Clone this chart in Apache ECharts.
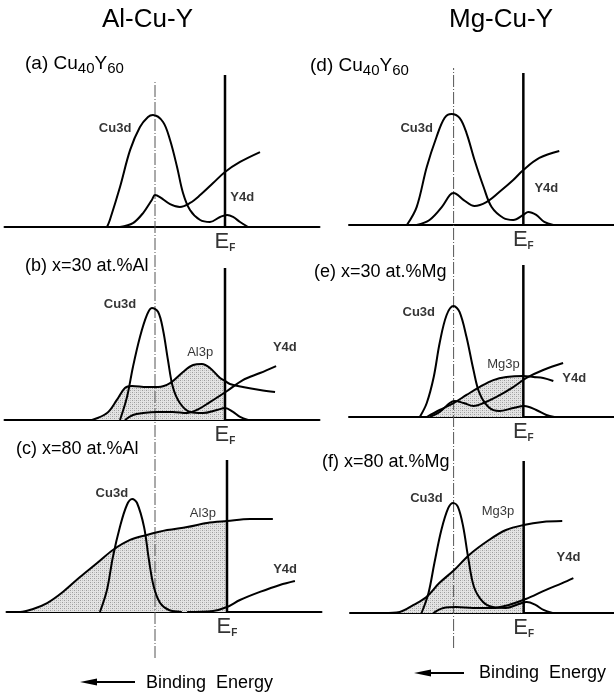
<!DOCTYPE html>
<html>
<head>
<meta charset="utf-8">
<script src="https://cdn.jsdelivr.net/npm/echarts@6/dist/echarts.min.js"></script>
<style>
  html, body { margin: 0; padding: 0; background: #fff; }
  #chart { width: 614px; height: 694px; }
</style>
</head>
<body>
<div id="chart"></div>
<script>
// x = binding energy (arb. units, E_F = 0, increasing to the left), y = intensity (arb. units)

// (a) Al-Cu-Y, Cu40Y60
const aCu3d = [[3.37,0],[3.29,0.46],[3.0,2.63],[2.71,5.07],[2.43,6.58],[2.2,7.24],[2.06,7.37],[1.77,6.91],[1.57,5.72],[1.37,3.95],[1.2,2.24],[1.0,1.12],[0.71,0.46],[0.43,0.33],[0.14,0.66],[-0.06,0.79],[-0.23,0.66],[-0.43,0.33],[-0.66,0]];
const aY4d = [[3.0,0],[2.63,0.26],[2.34,0.92],[2.09,1.78],[2.0,2.1],[1.86,1.97],[1.57,1.51],[1.29,1.32],[1.0,1.58],[0.71,2.1],[0.34,2.89],[0,3.62],[-0.43,4.28],[-1.0,4.93]];
const aLabels = [[3.14,6.5,'Cu3d'],[-0.49,1.97,'Y4d']];

// (b) x=30 at.%Al
const bCu3d = [[3.0,0],[2.8,1.51],[2.63,3.49],[2.43,5.46],[2.23,6.91],[2.09,7.37],[1.91,7.11],[1.77,5.92],[1.63,3.95],[1.49,2.17],[1.29,1.12],[1.0,0.53],[0.63,0.46],[0.23,0.66],[0,0.79],[-0.23,0.53],[-0.43,0.2],[-0.66,0]];
const bAl3p = [[3.8,0],[3.37,0.46],[3.09,1.32],[2.86,2.11],[2.66,2.24],[2.23,2.17],[1.91,2.17],[1.57,2.43],[1.2,3.16],[0.91,3.62],[0.66,3.68],[0.43,3.42],[0.14,2.76],[0,2.57],[-0.14,2.37],[-0.51,2.17],[-1.0,1.97],[-1.43,1.84]];
const bY4d = [[2.86,0],[2.63,0.33],[2.34,0.46],[1.94,0.53],[1.49,0.53],[1.09,0.46],[0.8,0.66],[0.43,1.18],[-0.06,1.91],[-0.51,2.63],[-1.0,3.09],[-1.46,3.55]];
const bLabels = [[3.0,7.63,'Cu3d'],[0.71,4.47,'Al3p'],[-1.71,4.8,'Y4d']];

// (c) x=80 at.%Al
const cAl3p = [[6.28,0],[5.91,0],[5.54,0.2],[5.14,0.59],[4.69,1.32],[4.2,2.3],[3.71,3.22],[3.26,4.08],[2.77,4.74],[2.29,5.07],[1.71,5.39],[1.14,5.59],[0.57,5.86],[0,5.99],[-0.66,6.12],[-1.31,6.12]];
const cCu3d = [[3.63,0],[3.43,1.45],[3.26,3.62],[3.06,5.59],[2.86,7.04],[2.71,7.43],[2.57,7.17],[2.37,5.59],[2.23,3.42],[2.09,1.64],[1.91,0.59],[1.66,0.13],[1.29,0]];
const cY4d = [[1.14,0],[0.4,0.07],[0,0.33],[-0.37,0.79],[-0.94,1.32],[-1.51,1.78],[-1.94,2.04]];
const cLabels = [[3.29,7.83,'Cu3d'],[0.69,6.51,'Al3p'],[-1.66,2.83,'Y4d']];

// (d) Mg-Cu-Y, Cu40Y60
const dCu3d = [[3.34,0],[3.06,1.18],[2.77,3.82],[2.49,5.79],[2.26,7.04],[2.06,7.3],[1.83,7.04],[1.63,6.05],[1.4,4.28],[1.14,2.5],[0.91,1.18],[0.57,0.46],[0.29,0.33],[0,0.66],[-0.14,0.86],[-0.37,0.66],[-0.6,0.2],[-0.86,0]];
const dY4d = [[3.06,0],[2.69,0.33],[2.34,1.18],[2.11,1.97],[2.0,2.11],[1.71,1.64],[1.4,1.25],[1.06,1.51],[0.69,2.17],[0.29,2.96],[0,3.62],[-0.46,4.41],[-1.03,4.87]];
const dLabels = [[3.06,6.38,'Cu3d'],[-0.66,2.43,'Y4d']];

// (e) x=30 at.%Mg
const eCu3d = [[2.97,0],[2.77,0.92],[2.57,2.63],[2.4,4.87],[2.2,6.71],[2.0,7.3],[1.83,6.91],[1.63,5.26],[1.43,3.09],[1.26,1.58],[1.0,0.66],[0.69,0.39],[0.29,0.59],[-0.03,0.72],[-0.37,0.46],[-0.66,0.13],[-0.89,0]];
const eMg3p = [[2.77,0],[2.4,0.46],[2.0,0.92],[1.63,1.45],[1.26,1.97],[0.86,2.43],[0.49,2.63],[0,2.7],[-0.29,2.63],[-0.57,2.57],[-0.86,2.37]];
const eY4d = [[2.69,0],[2.4,0.33],[2.11,0.92],[1.97,1.05],[1.71,0.92],[1.43,0.72],[1.14,0.92],[0.77,1.32],[0.29,1.97],[-0.09,2.57],[-0.57,3.09],[-1.14,3.55]];
const eLabels = [[3.0,6.9,'Cu3d'],[0.57,3.49,'Mg3p'],[-1.46,2.57,'Y4d']];

// (f) x=80 at.%Mg
const fMg3p = [[4.03,0],[3.57,0.07],[3.17,0.53],[2.8,1.05],[2.43,1.97],[2.0,2.83],[1.57,3.82],[1.0,4.8],[0.51,5.46],[0,5.79],[-0.54,5.99],[-1.11,6.05]];
const fCu3d = [[2.94,0],[2.74,1.32],[2.57,3.29],[2.37,5.46],[2.17,6.91],[2.03,7.24],[1.89,6.97],[1.74,5.66],[1.6,3.68],[1.43,1.71],[1.17,0.72],[0.89,0.39],[0.51,0.33],[0.14,0.59],[-0.09,0.72],[-0.34,0.53],[-0.57,0.2],[-0.83,0]];
const fY4d = [[2.6,0],[2.31,0.33],[1.94,0.39],[1.46,0.33],[0.89,0.33],[0.43,0.53],[-0.06,0.92],[-0.63,1.51],[-1.11,1.97],[-1.43,2.3]];
const fLabels = [[2.8,7.57,'Cu3d'],[0.74,6.71,'Mg3p'],[-1.29,3.68,'Y4d']];

const eFermi = 0;      // E_F
const dashEnergy = 2;  // dashed reference line
const yTop = 10;

const FONT = "'Liberation Sans', Arial, Helvetica, sans-serif";

// panel layout
const panels = [
    {left: 4.5, top: 75,  min: -2.7, max: 6.3, curves: [aCu3d, aY4d], shade: null,  labels: aLabels},
    {left: 4.5, top: 268, min: -2.7, max: 6.3, curves: [bCu3d, bAl3p, bY4d], shade: bAl3p, labels: bLabels},
    {left: 6.5, top: 460, min: -2.7, max: 6.3, curves: [cAl3p, cCu3d, cY4d], shade: cAl3p, labels: cLabels},
    {left: 349, top: 73,  min: -2.6, max: 5.0, curves: [dCu3d, dY4d], shade: null,  labels: dLabels},
    {left: 349, top: 265, min: -2.6, max: 5.0, curves: [eCu3d, eMg3p, eY4d], shade: eMg3p, labels: eLabels},
    {left: 350, top: 461, min: -2.6, max: 5.0, curves: [fMg3p, fCu3d, fY4d], shade: fMg3p, labels: fLabels}
];
const PX = 35, PANEL_H = 152;

function makeDots() {
    const c = document.createElement('canvas');
    c.width = 4; c.height = 4;
    const g = c.getContext('2d');
    g.fillStyle = '#e4e4e4'; g.fillRect(0, 0, 4, 4);
    g.fillStyle = '#9c9c9c'; g.fillRect(0, 0, 1, 1); g.fillRect(2, 2, 1, 1);
    g.fillStyle = '#c2c2c2'; g.fillRect(2, 0, 1, 1); g.fillRect(0, 2, 1, 1);
    return c;
}
const dots = {image: makeDots(), repeat: 'repeat'};

const grids = [], xAxes = [], yAxes = [], series = [];

panels.forEach((p, i) => {
    grids.push({left: p.left, top: p.top, width: (p.max - p.min) * PX, height: PANEL_H});
    xAxes.push({
        gridIndex: i, type: 'value', inverse: true, min: p.min, max: p.max,
        axisLine: {show: true, onZero: false, lineStyle: {color: '#000', width: 2}},
        axisTick: {show: false}, axisLabel: {show: false}, splitLine: {show: false}
    });
    yAxes.push({gridIndex: i, type: 'value', min: 0, max: yTop, show: false, splitLine: {show: false}});

    if (p.shade) {
        series.push({
            type: 'line', xAxisIndex: i, yAxisIndex: i, z: 1,
            data: p.shade.filter(d => d[0] >= eFermi),
            smooth: 0.35, symbol: 'none', silent: true,
            lineStyle: {width: 0},
            areaStyle: {color: dots, opacity: 1}
        });
    }
    p.curves.forEach(c => {
        series.push({
            type: 'line', xAxisIndex: i, yAxisIndex: i, z: 3,
            data: c, smooth: 0.35, symbol: 'none', silent: true,
            lineStyle: {color: '#000', width: 2}
        });
    });
    // E_F line
    series.push({
        type: 'line', xAxisIndex: i, yAxisIndex: i, z: 4,
        data: [[eFermi, 0], [eFermi, yTop]], symbol: 'none', silent: true,
        lineStyle: {color: '#000', width: 2.5}
    });
    // curve names
    series.push({
        type: 'scatter', xAxisIndex: i, yAxisIndex: i, z: 5, silent: true,
        symbolSize: 1, itemStyle: {color: 'rgba(0,0,0,0)'},
        data: p.labels.map(l => ({value: [l[0], l[1]], name: l[2]})),
        label: {
            show: true, position: 'inside', color: '#000', fontFamily: FONT,
            formatter: o => /3p$/.test(o.name) ? '{n|' + o.name + '}' : '{b|' + o.name + '}',
            rich: {
                b: {fontSize: 13, fontWeight: 'bold', fontFamily: FONT, color: '#000'},
                n: {fontSize: 13, fontWeight: 'normal', fontFamily: FONT, color: '#000'}
            }
        }
    });
    // E_F label
    series.push({
        type: 'scatter', xAxisIndex: i, yAxisIndex: i, z: 5, silent: true,
        symbolSize: 1, itemStyle: {color: 'rgba(0,0,0,0)'},
        data: [[eFermi, 0]],
        label: {
            show: true, position: 'bottom', distance: 2,
            formatter: '{e|E}{f|F}',
            rich: {
                e: {fontSize: 22, lineHeight: 24, fontFamily: FONT, color: '#000'},
                f: {fontSize: 10, lineHeight: 6, verticalAlign: 'bottom', fontWeight: 'bold', fontFamily: FONT, color: '#000'}
            }
        }
    });
});

// dashed reference lines spanning each column
const cols = [
    {left: 4.5, top: 80, height: 578, min: -2.7, max: 6.3},
    {left: 349, top: 68, height: 580, min: -2.6, max: 5.0}
];
cols.forEach((c, k) => {
    const gi = panels.length + k;
    grids.push({left: c.left, top: c.top, width: (c.max - c.min) * PX, height: c.height});
    xAxes.push({gridIndex: gi, type: 'value', inverse: true, min: c.min, max: c.max, show: false});
    yAxes.push({gridIndex: gi, type: 'value', min: 0, max: 1, show: false});
    series.push({
        type: 'line', xAxisIndex: gi, yAxisIndex: gi, z: 2, silent: true,
        data: [[dashEnergy, 0], [dashEnergy, 1]], symbol: 'none',
        lineStyle: {color: '#555', width: 1, type: [12, 2, 1, 2]}
    });
});

function txt(text, left, centerY, size, lh, rich) {
    return {
        text: text, left: left, top: centerY - lh / 2, padding: 0,
        textStyle: Object.assign({fontFamily: FONT, fontSize: size, fontWeight: 'normal', color: '#000', lineHeight: lh},
            rich ? {rich: rich} : {})
    };
}
const subRich = {
    m: {fontFamily: FONT, fontSize: 19, lineHeight: 24, color: '#000'},
    s: {fontFamily: FONT, fontSize: 15, lineHeight: 14, verticalAlign: 'bottom', color: '#000'}
};

const titles = [
    txt('Al-Cu-Y', 102, 20, 26, 30),
    txt('Mg-Cu-Y', 449, 20, 26, 30),
    txt('{m|(a) Cu}{s|40}{m|Y}{s|60}', 25, 64, 19, 24, subRich),
    txt('{m|(d) Cu}{s|40}{m|Y}{s|60}', 310, 66, 19, 24, subRich),
    txt('(b) x=30 at.%Al', 25, 266, 18, 22),
    txt('(c) x=80 at.%Al', 16, 449.5, 18, 22),
    txt('(e) x=30 at.%Mg', 314, 272, 18, 22),
    txt('(f) x=80 at.%Mg', 322, 462.5, 18, 22),
    txt('Binding  Energy', 146, 683, 18, 22),
    txt('Binding  Energy', 479, 673, 18, 22)
];

const chart = echarts.init(document.getElementById('chart'), null, {renderer: 'canvas'});
chart.setOption({
    animation: false,
    backgroundColor: '#fff',
    title: titles,
    grid: grids,
    xAxis: xAxes,
    yAxis: yAxes,
    series: series,
    graphic: [
        {type: 'polygon', shape: {points: [[80, 682], [97, 678.5], [97, 685.5]]}, style: {fill: '#000'}},
        {type: 'line', shape: {x1: 95, y1: 682, x2: 135, y2: 682}, style: {stroke: '#000', lineWidth: 2}},
        {type: 'polygon', shape: {points: [[414, 673], [431, 669.5], [431, 676.5]]}, style: {fill: '#000'}},
        {type: 'line', shape: {x1: 429, y1: 673, x2: 464, y2: 673}, style: {stroke: '#000', lineWidth: 2}}
    ]
});
</script>
</body>
</html>
